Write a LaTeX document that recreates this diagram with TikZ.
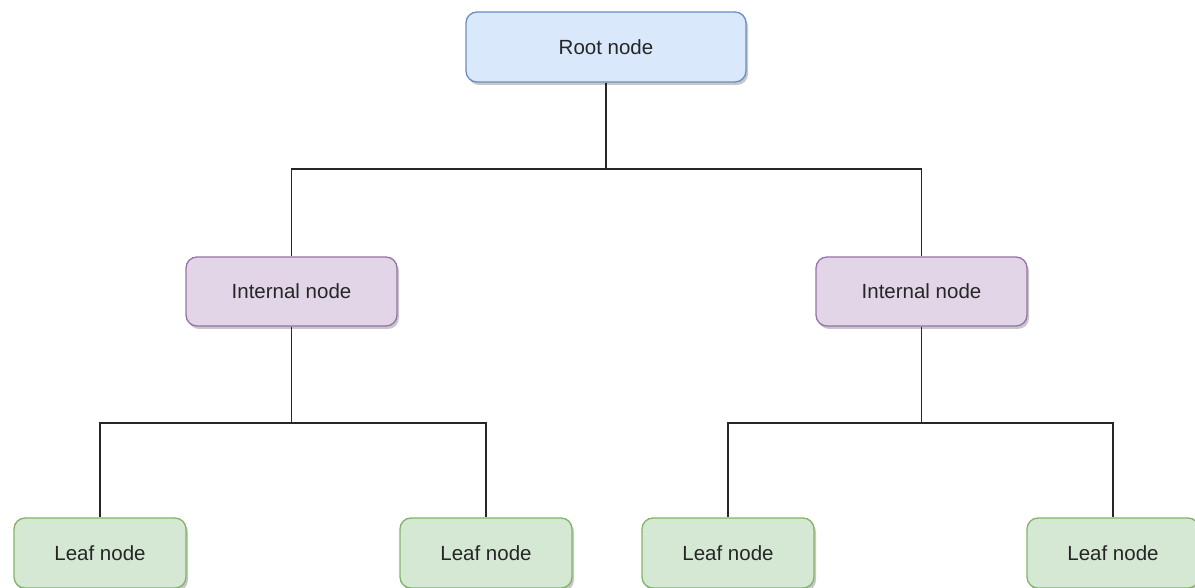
\documentclass[tikz,border=0pt]{standalone}
\usepackage{fontspec}
\setmainfont{Liberation Sans}
\usetikzlibrary{shadows}
\definecolor{bluefill}{HTML}{DAE8FC}
\definecolor{bluedraw}{HTML}{6C8EBF}
\definecolor{purpfill}{HTML}{E1D5E7}
\definecolor{purpdraw}{HTML}{9673A6}
\definecolor{greenfill}{HTML}{D5E8D4}
\definecolor{greendraw}{HTML}{82B366}
\definecolor{txt}{HTML}{262626}
\tikzset{
  box/.style={rectangle, rounded corners=11pt, line width=1.3pt, text=txt,
    font=\fontsize{20.5}{24}\selectfont, inner sep=0pt,
    drop shadow={shadow xshift=2pt, shadow yshift=-3pt, opacity=0.22, fill=black}},
  rootbox/.style={box, fill=bluefill, draw=bluedraw, minimum width=280pt, minimum height=70pt},
  intbox/.style={box, fill=purpfill, draw=purpdraw, minimum width=211pt, minimum height=69pt},
  leafbox/.style={box, fill=greenfill, draw=greendraw, minimum width=172pt, minimum height=70pt},
  conn/.style={draw=black!85, line width=1.5pt}
}
\begin{document}
\begin{tikzpicture}[x=1pt, y=-1pt]
\useasboundingbox (0,0) rectangle (1195,588);
\node[rootbox] (root) at (606,47) {Root node};
\node[intbox] (intL) at (291.5,291.5) {Internal node};
\node[intbox] (intR) at (921.5,291.5) {Internal node};
\node[leafbox] (leaf1) at (100,553) {Leaf node};
\node[leafbox] (leaf2) at (486,553) {Leaf node};
\node[leafbox] (leaf3) at (728,553) {Leaf node};
\node[leafbox] (leaf4) at (1113,553) {Leaf node};
\coordinate (j1) at (606,169);
\coordinate (j2) at (291.5,423);
\coordinate (j3) at (921.5,423);
\draw[conn] (root.south) -- (j1);
\draw[conn] (j1) -| (intL.north);
\draw[conn] (j1) -| (intR.north);
\draw[conn] (intL.south) -- (j2);
\draw[conn] (j2) -| (leaf1.north);
\draw[conn] (j2) -| (leaf2.north);
\draw[conn] (intR.south) -- (j3);
\draw[conn] (j3) -| (leaf3.north);
\draw[conn] (j3) -| (leaf4.north);
\end{tikzpicture}
\end{document}
